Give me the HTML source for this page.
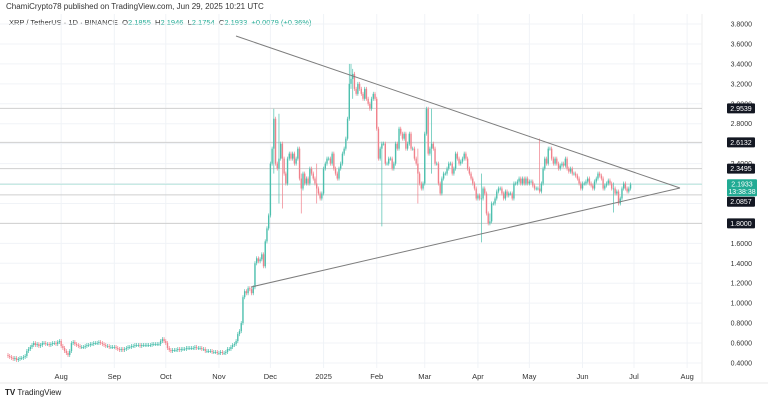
<!DOCTYPE html>
<html><head><meta charset="utf-8">
<style>
html,body{margin:0;padding:0;background:#fff;}
body{width:768px;height:403px;overflow:hidden;font-family:"Liberation Sans",sans-serif;position:relative;}
.hdr{position:absolute;left:6px;top:2px;font-size:8px;color:#333;}
.sym{position:absolute;left:9px;top:18px;font-size:7.5px;color:#333;}
.sym .g{color:#22ab94;}
.logo{position:absolute;left:5px;top:388px;font-size:8px;color:#222;}
</style></head><body>
<div class="hdr">ChamiCrypto78 published on TradingView.com, Jun 29, 2025 10:21 UTC</div>
<div class="sym">XRP / TetherUS · 1D · BINANCE&nbsp; O<span class="g">2.1855</span>&nbsp; H<span class="g">2.1946</span>&nbsp; L<span class="g">2.1754</span>&nbsp; C<span class="g">2.1933&nbsp; +0.0079 (+0.36%)</span></div>
<div class="logo"><b>TV</b> TradingView</div>
<svg id="chart" width="768" height="403" style="position:absolute;left:0;top:0;pointer-events:none"></svg>
<script>
const closes = [
0.47,0.46,0.45,0.44,0.45,0.43,0.44,0.45,0.45,0.46,0.47,0.52,0.54,0.56,0.58,0.60,0.58,0.59,0.57,0.58,0.60,0.60,0.59,0.59,0.58,0.59,0.60,0.60,0.59,0.61,0.62,
0.57,0.55,0.52,0.50,0.48,0.52,0.60,0.61,0.59,0.58,0.57,0.56,0.56,0.56,0.57,0.58,0.58,0.59,0.59,0.60,0.60,0.60,0.61,0.60,0.59,0.58,0.57,0.57,0.56,0.56,0.56,
0.56,0.55,0.54,0.53,0.54,0.53,0.54,0.55,0.56,0.56,0.57,0.57,0.58,0.58,0.58,0.57,0.58,0.58,0.58,0.58,0.58,0.58,0.59,0.59,0.59,0.59,0.59,0.62,0.64,0.62,
0.60,0.55,0.53,0.52,0.53,0.53,0.53,0.54,0.53,0.54,0.54,0.54,0.55,0.55,0.55,0.55,0.55,0.56,0.55,0.55,0.55,0.54,0.54,0.52,0.52,0.52,0.52,0.51,0.51,0.51,0.50,
0.50,0.51,0.50,0.50,0.51,0.54,0.54,0.56,0.58,0.59,0.62,0.69,0.72,0.80,1.06,1.12,1.10,1.15,1.14,1.10,1.16,1.40,1.45,1.42,1.44,1.49,1.37,1.62,1.75,1.88,
2.40,2.55,2.85,2.40,2.35,2.45,2.60,2.45,2.30,2.20,2.45,2.50,2.45,2.50,2.40,2.45,2.55,2.25,2.15,2.30,2.20,2.25,2.20,2.35,2.30,2.25,2.20,2.15,2.10,2.05,2.10,
2.35,2.40,2.45,2.45,2.40,2.50,2.35,2.30,2.25,2.35,2.40,2.50,2.55,2.65,2.85,3.20,3.25,3.30,3.15,3.10,3.20,3.15,3.10,3.05,3.15,3.05,3.00,2.95,3.05,3.10,3.05,
2.75,2.45,2.55,2.60,2.60,2.40,2.40,2.45,2.45,2.35,2.40,2.60,2.55,2.75,2.70,2.65,2.70,2.55,2.60,2.70,2.55,2.55,2.45,2.40,2.30,2.20,2.15,2.20,
2.70,2.95,2.50,2.55,2.60,2.55,2.40,2.40,2.20,2.10,2.25,2.30,2.30,2.35,2.40,2.40,2.30,2.35,2.50,2.45,2.40,2.42,2.45,2.50,2.45,2.35,2.30,2.25,2.20,2.15,2.05,
2.08,2.05,2.05,2.15,2.10,1.90,1.80,1.82,2.00,2.00,2.05,2.12,2.15,2.15,2.10,2.05,2.12,2.08,2.10,2.10,2.05,2.20,2.20,2.22,2.25,2.20,2.25,2.20,2.25,2.20,
2.22,2.22,2.18,2.15,2.15,2.15,2.12,2.20,2.35,2.45,2.40,2.55,2.55,2.45,2.40,2.45,2.40,2.35,2.38,2.40,2.38,2.45,2.35,2.32,2.35,2.30,2.30,2.28,2.25,2.20,2.15,
2.20,2.20,2.22,2.25,2.20,2.18,2.15,2.22,2.25,2.30,2.28,2.25,2.15,2.18,2.20,2.23,2.20,2.15,2.15,2.10,2.12,2.00,2.05,2.15,2.20,2.15,2.12,2.15,2.19];
const firstOpen = 0.48;
// notable wicks: [dayIndex, high, low]
const wickIdx = [155,158,160,171,180,199,200,201,218,239,247,276,281,310,353];
const wickHigh = [2.95,2.90,2.50,2.30,2.40,3.40,3.40,3.35,2.60,2.55,2.95,2.30,1.90,2.65,2.21];
const wickLow = [2.30,2.00,1.95,1.90,2.00,3.10,3.15,3.05,1.77,2.00,2.30,1.61,1.90,2.40,1.91];
const monthLabels = ["Aug","Sep","Oct","Nov","Dec","2025","Feb","Mar","Apr","May","Jun","Jul","Aug"];
const monthDays = [31,62,92,123,153,184,215,243,274,304,335,365,396];
const priceTicks = [0.4,0.6,0.8,1.0,1.2,1.4,1.6,1.8,2.0,2.2,2.4,2.6,2.8,3.0,3.2,3.4,3.6,3.8];
const levels = [2.9539,2.6132,2.3495,2.0857,1.8000];
const lastPrice = 2.1933;

const NS="http://www.w3.org/2000/svg";
const svg=document.getElementById('chart');
const X=d=>8+d*1.715;
const Y=p=>363-(p-0.4)*99.7;
function mk(tag,attrs,parent){const e=document.createElementNS(NS,tag);for(const k in attrs)e.setAttribute(k,attrs[k]);(parent||svg).appendChild(e);return e;}
const PR=702;
const grid=mk('g',{});


priceTicks.forEach(p=>{mk('line',{x1:0,x2:PR,y1:Y(p),y2:Y(p),stroke:'#f0f3f7','stroke-width':1},grid);});
monthDays.forEach(d=>{mk('line',{x1:X(d),x2:X(d),y1:14,y2:368,stroke:'#f0f3f7','stroke-width':1},grid);});
mk('line',{x1:0,x2:768,y1:383,y2:383,stroke:'#e8e8e8','stroke-width':1});
mk('line',{x1:PR,x2:PR,y1:14,y2:383,stroke:'#eee','stroke-width':1});
levels.forEach(p=>{
 const l=mk('line',{x1:0,x2:PR,y1:Y(p),y2:Y(p),stroke:'#cfcfcf','stroke-width':1});
 
 
});
const cl=mk('line',{x1:0,x2:PR,y1:Y(lastPrice),y2:Y(lastPrice),stroke:'#b5e3dc','stroke-width':1});


const cg=mk('g',{});


let prev=firstOpen;
closes.forEach((c,i)=>{
 const o=prev; prev=c;
 let h=Math.max(o,c)+0.02, lo=Math.min(o,c)-0.02;
 const k=wickIdx.indexOf(i);
 if(k>=0){h=Math.max(h,wickHigh[k]);lo=Math.min(lo,wickLow[k]);}
 const up=c>=o; const col=up?'#4cbfad':'#f0818b';
 const x=X(i);
 mk('line',{x1:x,x2:x,y1:Y(h),y2:Y(lo),stroke:col,'stroke-width':0.7},cg);
 const y1=Y(Math.max(o,c)),y2=Y(Math.min(o,c));
 const r=mk('rect',{x:x-0.7,y:y1,width:1.4,height:Math.max(0.8,y2-y1),fill:col},cg);
 
 
});
const t1=mk('line',{x1:236,y1:36,x2:680,y2:188,stroke:'#7d7d7d','stroke-width':1});


const t2=mk('line',{x1:251,y1:287,x2:680,y2:188,stroke:'#7d7d7d','stroke-width':1});


priceTicks.forEach(p=>{
 const t=mk('text',{x:752,y:Y(p)+2.5,'font-size':7,'text-anchor':'end',fill:'#333','font-family':'Liberation Sans'});
 t.textContent=p.toFixed(4);
 
 
});
const lg=mk('g',{});


mk('rect',{x:727,y:Y(lastPrice)-5,width:30,height:17,fill:'#22ab94',rx:1},lg);
const lt=mk('text',{x:742,y:Y(lastPrice)+2.5,'font-size':7,'text-anchor':'middle',fill:'#fff','font-family':'Liberation Sans'},lg);
lt.textContent=lastPrice.toFixed(4);
const lt2=mk('text',{x:742,y:Y(lastPrice)+10,'font-size':7,'text-anchor':'middle',fill:'#fff','font-family':'Liberation Sans'},lg);
lt2.textContent='13:38:38';
const tagBottom=Y(lastPrice)+12;
levels.forEach(p=>{
 let cy=Y(p);
 if(cy<tagBottom+5 && cy>Y(lastPrice)) cy=tagBottom+5.5;
 const g=mk('g',{});
 
 
 mk('rect',{x:727,y:cy-5,width:28,height:10,fill:'#131722',rx:1},g);
 const t=mk('text',{x:741,y:cy+2.5,'font-size':7,'text-anchor':'middle',fill:'#fff','font-family':'Liberation Sans'},g);
 t.textContent=p.toFixed(4);
});
monthLabels.forEach((m,i)=>{
 const t=mk('text',{x:X(monthDays[i]),y:379,'font-size':7.5,'text-anchor':'middle',fill:'#333','font-family':'Liberation Sans'});
 t.textContent=m;
 
 
});
</script>
</body></html>
